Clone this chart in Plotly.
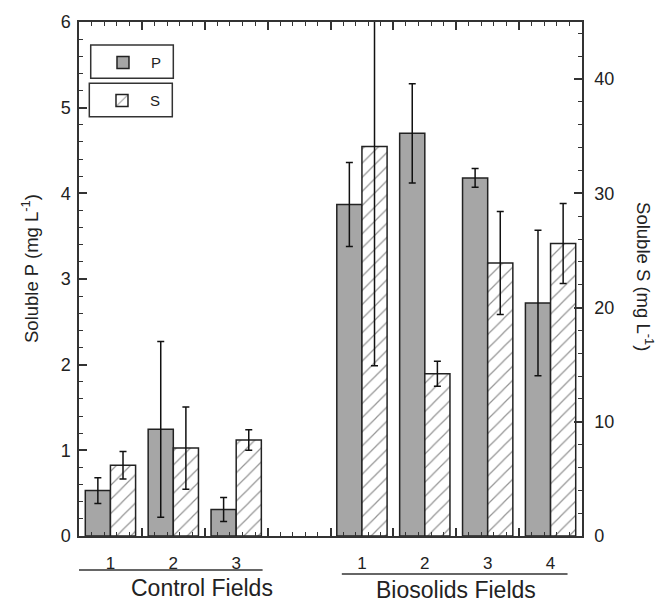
import plotly.graph_objects as go

# ---- data ----
control_fields = ["1", "2", "3"]
biosolids_fields = ["1", "2", "3", "4"]
group_names = ["Control Fields", "Biosolids Fields"]

p_control = [0.53, 1.245, 0.31]
p_control_err = [0.15, 1.025, 0.14]
s_control = [6.2, 7.7, 8.4]
s_control_err = [1.2, 3.6, 0.9]

p_biosolids = [3.87, 4.70, 4.18, 2.72]
p_biosolids_err = [0.49, 0.58, 0.11, 0.85]
s_biosolids = [34.1, 14.2, 23.9, 25.6]
s_biosolids_err = [19.2, 1.1, 4.5, 3.5]

# ---- positions on a continuous x axis, one empty slot between the groups ----
x_control = [i + 0.5 for i in range(len(control_fields))]
x_bio = [len(control_fields) + 1 + i + 0.5 for i in range(len(biosolids_fields))]
x_all = x_control + x_bio
tick_text = control_fields + biosolids_fields
x_max = len(control_fields) + 1 + len(biosolids_fields)

p_vals = p_control + p_biosolids
p_errs = p_control_err + p_biosolids_err
s_vals = s_control + s_biosolids
s_errs = s_control_err + s_biosolids_err

FONT = "Liberation Sans, Arial, Helvetica, sans-serif"
AX = "#333333"
TXT = "#222222"

fig = go.Figure()
fig.add_trace(go.Bar(
    x=x_all, y=p_vals, width=0.4, offset=-0.4, name="P",
    marker=dict(color="#a6a6a6", line=dict(color="#222222", width=1.5)),
    error_y=dict(type="data", array=p_errs, color="#111111", thickness=1.5, width=3.5),
    xaxis="x", yaxis="y", legend="legend",
))
fig.add_trace(go.Bar(
    x=x_all, y=s_vals, width=0.4, offset=0.0, name="S",
    marker=dict(color="white", line=dict(color="#222222", width=1.5),
                pattern=dict(shape="/", size=10, solidity=0.12,
                             fgcolor="#2a2a2a", bgcolor="white")),
    error_y=dict(type="data", array=s_errs, color="#111111", thickness=1.5, width=3.5),
    xaxis="x2", yaxis="y2", legend="legend2",
))

minor_x = dict(ticks="inside", ticklen=4, tickwidth=1.2, tickcolor=AX,
               tick0=0, dtick=0.2, showgrid=False)

fig.update_layout(
    width=659, height=604,
    margin=dict(l=79, r=77, t=22, b=68),
    paper_bgcolor="white", plot_bgcolor="white",
    font=dict(family=FONT, size=16, color=TXT),
    barmode="overlay",
    showlegend=True,
    xaxis=dict(
        range=[0, x_max], showline=True, linecolor=AX, linewidth=1.5, mirror="ticks",
        ticks="inside", ticklen=8, tickwidth=1.5, tickcolor=AX, tick0=0, dtick=1,
        showticklabels=False, showgrid=False, zeroline=False, automargin=False,
        minor=minor_x,
    ),
    xaxis2=dict(
        overlaying="x", anchor="y2", side="bottom", range=[0, x_max],
        tickmode="array", tickvals=x_all, ticktext=tick_text, ticks="",
        showline=False, showgrid=False, zeroline=False, automargin=False,
        tickfont=dict(size=17, color=TXT), ticklabelstandoff=15,
    ),
    yaxis=dict(
        range=[0, 6], showline=True, linecolor=AX, linewidth=1.5,
        ticks="inside", ticklen=8, tickwidth=1.5, tickcolor=AX, tick0=0, dtick=1,
        showgrid=False, zeroline=False, automargin=False,
        tickfont=dict(size=18, color=TXT), ticklabelstandoff=3,
        minor=dict(ticks="inside", ticklen=4, tickwidth=1.2, tickcolor=AX,
                   tick0=0, dtick=0.2, showgrid=False),
    ),
    yaxis2=dict(
        overlaying="y", side="right", anchor="x2", range=[0, 45],
        showline=True, linecolor=AX, linewidth=1.5,
        ticks="inside", ticklen=8, tickwidth=1.5, tickcolor=AX, tick0=0, dtick=10,
        showgrid=False, zeroline=False, automargin=False,
        tickfont=dict(size=18, color=TXT), ticklabelstandoff=7,
        minor=dict(ticks="inside", ticklen=4, tickwidth=1.2, tickcolor=AX,
                   tick0=0, dtick=2, showgrid=False),
    ),
    legend=dict(x=0.0318, y=0.953, xanchor="left", yanchor="top", itemwidth=46,
                borderwidth=0, bgcolor="rgba(0,0,0,0)", font=dict(size=15, color=TXT)),
    legend2=dict(x=0.0298, y=0.8787, xanchor="left", yanchor="top", itemwidth=46,
                 borderwidth=0, bgcolor="rgba(0,0,0,0)", font=dict(size=15, color=TXT)),
    annotations=[
        dict(text="Soluble P (mg L<sup>-1</sup>)", textangle=-90, xref="paper", yref="paper",
             x=-0.0974, y=0.5195, xanchor="center", yanchor="middle", showarrow=False,
             font=dict(size=18.5)),
        dict(text="Soluble S (mg L<sup>-1</sup>)", textangle=90, xref="paper", yref="paper",
             x=1.125, y=0.504, xanchor="center", yanchor="middle", showarrow=False,
             font=dict(size=18.5)),
        dict(text=group_names[0], xref="x", yref="paper", x=1.95, y=-0.101,
             xanchor="center", yanchor="middle", showarrow=False, font=dict(size=23)),
        dict(text=group_names[1], xref="x", yref="paper", x=6.0, y=-0.105,
             xanchor="center", yanchor="middle", showarrow=False, font=dict(size=23)),
    ],
    shapes=[
        # legend frames
        dict(type="rect", xref="paper", yref="paper", x0=0.0233, x1=0.1875,
             y0=0.8905, y1=0.9553, line=dict(color=AX, width=1.5), layer="below"),
        dict(type="rect", xref="paper", yref="paper", x0=0.0205, x1=0.1855,
             y0=0.8158, y1=0.8807, line=dict(color=AX, width=1.5), layer="below"),
        # group underlines
        dict(type="line", xref="x", yref="paper", x0=-0.06, x1=2.92, y0=-0.0661, y1=-0.0661,
             line=dict(color=AX, width=1.5)),
        dict(type="line", xref="x", yref="paper", x0=4.18, x1=7.77, y0=-0.0739, y1=-0.0739,
             line=dict(color=AX, width=1.5)),
    ],
)

fig.write_html("out.html", config={"displayModeBar": False},
               post_script="document.body.style.margin='0px';")
